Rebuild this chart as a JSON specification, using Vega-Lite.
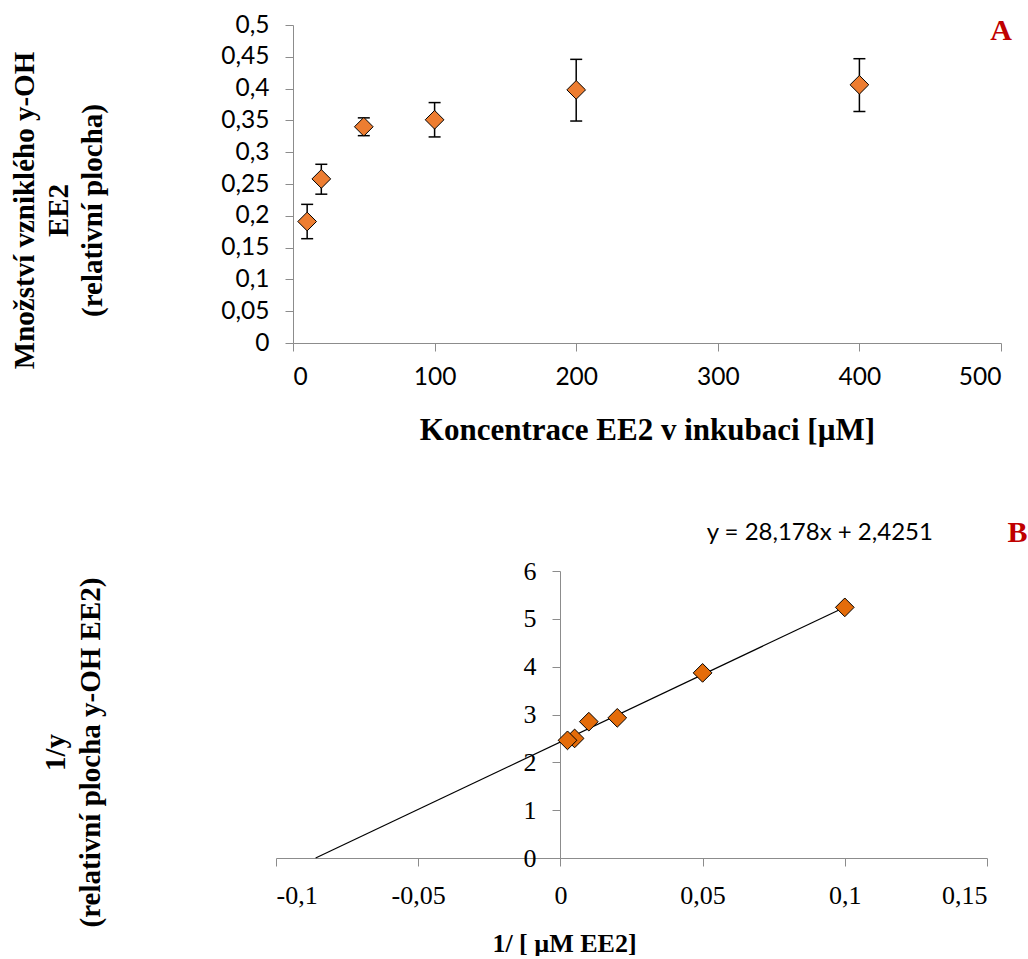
{
  "$schema": "https://vega.github.io/schema/vega-lite/v6.json",
  "autosize": {"type": "pad"},
  "padding": {"left": 10, "top": 12, "right": 0, "bottom": 0},
  "spacing": 71,
  "config": {"view": {"stroke": null}, "axis": {"grid": false, "labelOverlap": false}},
  "datasets": {
    "mm": [
      {"c": 10, "v": 0.191, "lo": 0.164, "hi": 0.218},
      {"c": 20, "v": 0.258, "lo": 0.234, "hi": 0.281},
      {"c": 50, "v": 0.340, "lo": 0.326, "hi": 0.354},
      {"c": 100, "v": 0.351, "lo": 0.324, "hi": 0.378},
      {"c": 200, "v": 0.398, "lo": 0.349, "hi": 0.446},
      {"c": 400, "v": 0.406, "lo": 0.364, "hi": 0.447}
    ],
    "lb": [
      {"ic": 0.1, "iy": 5.24},
      {"ic": 0.05, "iy": 3.87},
      {"ic": 0.02, "iy": 2.93},
      {"ic": 0.01, "iy": 2.85},
      {"ic": 0.005, "iy": 2.50},
      {"ic": 0.0025, "iy": 2.46}
    ],
    "trend": [
      {"ic": -0.08606, "iy": 0},
      {"ic": 0.1, "iy": 5.243}
    ],
    "one": [{"k": 1}]
  },
  "vconcat": [
    {
      "width": 725,
      "height": 318,
      "layer": [
        {
          "data": {"name": "mm"},
          "mark": {"type": "rule", "color": "#000000", "strokeWidth": 1.5},
          "encoding": {
            "x": {
              "field": "c", "type": "quantitative",
              "scale": {"domain": [0, 500], "range": [17, 725], "nice": false},
              "axis": {
                "values": [0, 100, 200, 300, 400, 500],
                "domainColor": "#8c8c8c", "tickColor": "#8c8c8c", "tickSize": 8,
                "labelFont": "Lato", "labelFontSize": 24.5, "labelColor": "#000000", "labelPadding": 14,
                "title": "Koncentrace EE2 v inkubaci [µM]",
                "titleFont": "Liberation Serif", "titleFontSize": 31, "titleFontWeight": "bold", "titleColor": "#000000",
                "titlePadding": 27
              }
            },
            "y": {
              "field": "lo", "type": "quantitative",
              "scale": {"domain": [0, 0.5], "nice": false},
              "axis": {
                "offset": -17,
                "values": [0, 0.05, 0.1, 0.15, 0.2, 0.25, 0.3, 0.35, 0.4, 0.45, 0.5],
                "tickCount": 11,
                "labelOverlap": false, "labelBound": false,
                "labelExpr": "replace(toString(datum.value), '.', ',')",
                "domainColor": "#8c8c8c", "tickColor": "#8c8c8c", "tickSize": 8,
                "labelFont": "Lato", "labelFontSize": 24.5, "labelColor": "#000000", "labelPadding": 16,
                "title": ["Množství vzniklého y-OH", "EE2", "(relativní plocha)"],
                "titleFont": "Liberation Serif", "titleFontSize": 29, "titleFontWeight": "bold", "titleColor": "#000000",
                "titleLineHeight": 34, "titleAngle": 270, "titleBaseline": "bottom", "titleAlign": "center",
                "titleX": -254, "titleY": 185
              }
            },
            "y2": {"field": "hi"}
          }
        },
        {
          "data": {"name": "mm"},
          "mark": {"type": "tick", "orient": "horizontal", "size": 12, "thickness": 1.5, "color": "#000000", "opacity": 1},
          "encoding": {
            "x": {"field": "c", "type": "quantitative"},
            "y": {"field": "lo", "type": "quantitative"}
          }
        },
        {
          "data": {"name": "mm"},
          "mark": {"type": "tick", "orient": "horizontal", "size": 12, "thickness": 1.5, "color": "#000000", "opacity": 1},
          "encoding": {
            "x": {"field": "c", "type": "quantitative"},
            "y": {"field": "hi", "type": "quantitative"}
          }
        },
        {
          "data": {"name": "mm"},
          "mark": {"type": "point", "shape": "diamond", "size": 350, "filled": true, "fill": "#ED7D31", "stroke": "#000000", "strokeWidth": 1, "opacity": 1},
          "encoding": {
            "x": {"field": "c", "type": "quantitative"},
            "y": {"field": "v", "type": "quantitative"}
          }
        },
        {
          "data": {"name": "one"},
          "mark": {"type": "text", "text": "A", "font": "Liberation Serif", "fontSize": 30, "fontWeight": "bold", "color": "#C00000", "align": "center", "baseline": "middle"},
          "encoding": {"x": {"datum": 500}, "y": {"datum": 0.49}}
        }
      ]
    },
    {
      "width": 711,
      "height": 287,
      "layer": [
        {
          "data": {"name": "trend"},
          "mark": {"type": "line", "color": "#000000", "strokeWidth": 1.2},
          "encoding": {
            "x": {
              "field": "ic", "type": "quantitative",
              "scale": {"domain": [-0.1, 0.15], "nice": false},
              "axis": {
                "values": [-0.1, -0.05, 0, 0.05, 0.1, 0.15],
                "labelExpr": "replace(toString(datum.value), '.', ',')",
                "domainColor": "#8c8c8c", "tickColor": "#8c8c8c", "tickSize": 8,
                "labelFont": "Liberation Serif", "labelFontSize": 26, "labelColor": "#000000", "labelPadding": 16,
                "title": "1/ [ µM EE2]",
                "titleFont": "Liberation Serif", "titleFontSize": 26, "titleFontWeight": "bold", "titleColor": "#000000",
                "titlePadding": 22, "titleX": 288, "titleAlign": "center"
              }
            },
            "y": {
              "field": "iy", "type": "quantitative",
              "scale": {"domain": [0, 6], "nice": false},
              "axis": {
                "offset": -284,
                "values": [0, 1, 2, 3, 4, 5, 6],
                "domainColor": "#8c8c8c", "tickColor": "#8c8c8c", "tickSize": 8,
                "labelFont": "Liberation Serif", "labelFontSize": 26, "labelColor": "#000000", "labelPadding": 16,
                "title": ["1/y", "(relativní plocha y-OH EE2)"],
                "titleFont": "Liberation Serif", "titleFontSize": 29, "titleFontWeight": "bold", "titleColor": "#000000",
                "titleLineHeight": 35, "titleAngle": 270, "titleBaseline": "bottom", "titleAlign": "center",
                "titleX": -490, "titleY": 181
              }
            }
          }
        },
        {
          "data": {"name": "lb"},
          "mark": {"type": "point", "shape": "diamond", "size": 350, "filled": true, "fill": "#E46C0A", "stroke": "#000000", "strokeWidth": 1, "opacity": 1},
          "encoding": {
            "x": {"field": "ic", "type": "quantitative"},
            "y": {"field": "iy", "type": "quantitative"}
          }
        },
        {
          "data": {"name": "one"},
          "mark": {"type": "text", "text": "y = 28,178x + 2,4251", "font": "Lato", "fontSize": 24, "color": "#000000", "align": "center", "baseline": "middle"},
          "encoding": {"x": {"datum": 0.0912}, "y": {"datum": 6.8}}
        },
        {
          "data": {"name": "one"},
          "mark": {"type": "text", "text": "B", "font": "Liberation Serif", "fontSize": 30, "fontWeight": "bold", "color": "#C00000", "align": "center", "baseline": "middle"},
          "encoding": {"x": {"datum": 0.1607}, "y": {"datum": 6.8}}
        }
      ]
    }
  ]
}
